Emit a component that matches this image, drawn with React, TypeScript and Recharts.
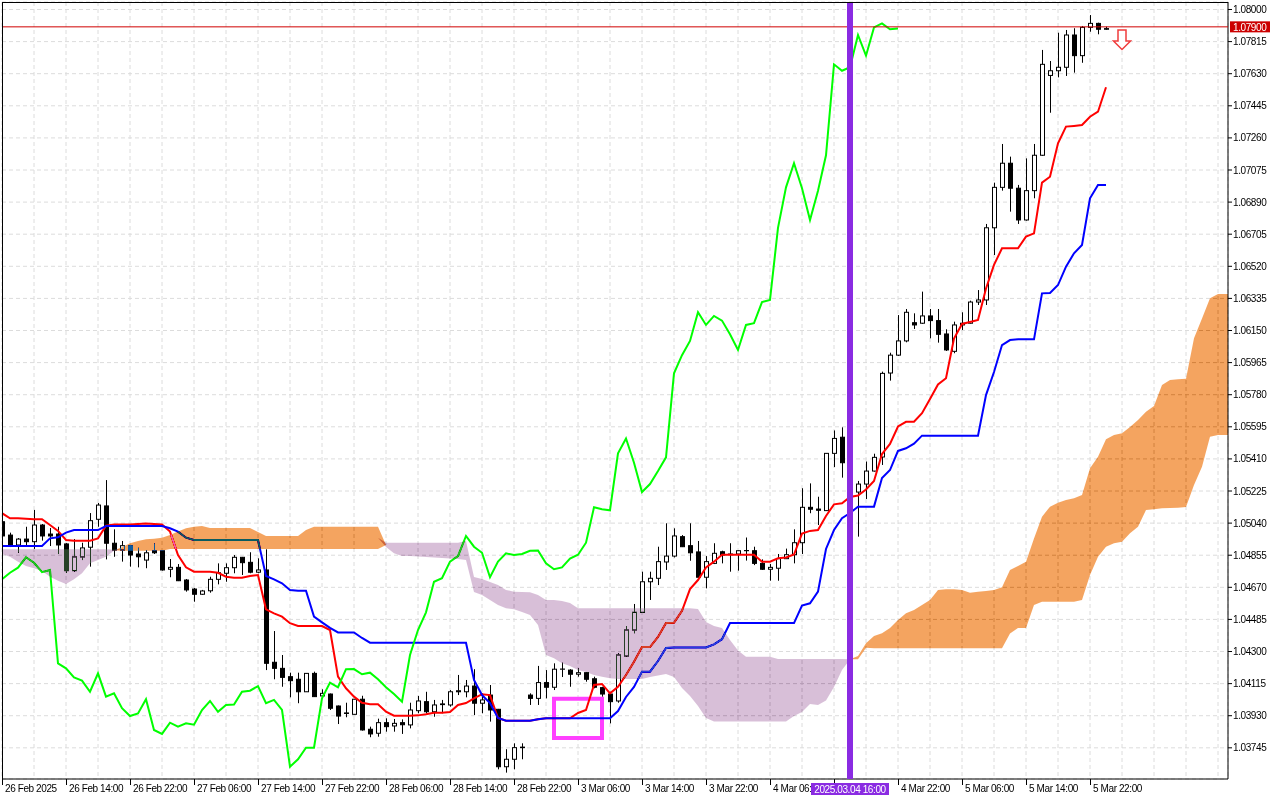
import React from 'react';
import {
  ComposedChart, Bar, Line, Area, XAxis, YAxis, CartesianGrid,
  ReferenceLine, ReferenceArea, ReferenceDot,
} from 'recharts';

const FONT = '"Liberation Sans", Arial, Helvetica, sans-serif';

// EURUSD H1, bars from 26 Feb 2025 06:00 (index 0) to 6 Mar 00:00 (index 138)
const opens = [
  1.05048, 1.04971, 1.04914, 1.04948, 1.04933, 1.05029, 1.04977, 1.04977, 1.04920, 1.04766,
  1.04845, 1.04901, 1.05062, 1.05139, 1.04924, 1.04885, 1.04910, 1.04862, 1.04827, 1.04881,
  1.04881, 1.04774, 1.04785, 1.04712, 1.04660, 1.04630, 1.04650, 1.04716, 1.04751, 1.04783,
  1.04843, 1.04814, 1.04757, 1.04770, 1.04238, 1.04203, 1.04155, 1.04140, 1.04068, 1.04174,
  1.04044, 1.04055, 1.03986, 1.03946, 1.03938, 1.04025, 1.03852, 1.03829, 1.03890, 1.03871,
  1.03890, 1.03877, 1.03959, 1.04011, 1.03953, 1.03998, 1.03992, 1.04068, 1.04068, 1.04101,
  1.04002, 1.04049, 1.03967, 1.03636, 1.03679, 1.03749, 1.04049, 1.04030, 1.04121, 1.04094,
  1.04198, 1.04193, 1.04169, 1.04178, 1.04143, 1.04092, 1.04055, 1.04015, 1.04274, 1.04424,
  1.04526, 1.04702, 1.04722, 1.04816, 1.04850, 1.04962, 1.04910, 1.04874, 1.04728, 1.04808,
  1.04875, 1.04858, 1.04862, 1.04881, 1.04881, 1.04808, 1.04774, 1.04780, 1.04835, 1.04858,
  1.04927, 1.05131, 1.05121, 1.05112, 1.05442, 1.05535, 1.05388, 1.05219, 1.05265, 1.05340,
  1.05421, 1.05905, 1.06008, 1.06090, 1.06195, 1.06192, 1.06234, 1.06207, 1.06130, 1.06030,
  1.06182, 1.06192, 1.06314, 1.06326, 1.06742, 1.06975, 1.07114, 1.06970, 1.06787, 1.06956,
  1.07160, 1.07620, 1.07647, 1.07667, 1.07853, 1.07734, 1.07897, 1.07920, 1.07886,
];
const highs = [
  1.05070, 1.04985, 1.04954, 1.05019, 1.05116, 1.05035, 1.05012, 1.05019, 1.04925, 1.04948,
  1.04927, 1.05098, 1.05156, 1.05288, 1.05004, 1.04937, 1.04914, 1.04898, 1.04885, 1.04924,
  1.04885, 1.04833, 1.04804, 1.04718, 1.04666, 1.04655, 1.04731, 1.04808, 1.04808, 1.04856,
  1.04845, 1.04872, 1.04837, 1.04889, 1.04418, 1.04280, 1.04178, 1.04178, 1.04176, 1.04184,
  1.04082, 1.04058, 1.03989, 1.04005, 1.04026, 1.04045, 1.03867, 1.03913, 1.03915, 1.03911,
  1.03909, 1.04005, 1.04044, 1.04068, 1.04021, 1.04021, 1.04078, 1.04165, 1.04136, 1.04198,
  1.04059, 1.04107, 1.03969, 1.03737, 1.03771, 1.03771, 1.04059, 1.04217, 1.04193, 1.04232,
  1.04236, 1.04198, 1.04203, 1.04182, 1.04155, 1.04097, 1.04068, 1.04290, 1.04447, 1.04574,
  1.04760, 1.04760, 1.04904, 1.05039, 1.05010, 1.04971, 1.05039, 1.04937, 1.04850, 1.04924,
  1.04881, 1.04924, 1.04882, 1.04957, 1.04904, 1.04831, 1.04804, 1.04862, 1.04893, 1.05004,
  1.05241, 1.05269, 1.05192, 1.05444, 1.05574, 1.05592, 1.05415, 1.05283, 1.05395, 1.05440,
  1.05913, 1.06022, 1.06239, 1.06274, 1.06249, 1.06374, 1.06274, 1.06274, 1.06157, 1.06201,
  1.06255, 1.06322, 1.06383, 1.06764, 1.07002, 1.07225, 1.07152, 1.06989, 1.07142, 1.07225,
  1.07767, 1.07703, 1.07866, 1.07882, 1.07892, 1.07905, 1.07968, 1.07924, 1.07901,
];
const lows = [
  1.04954, 1.04902, 1.04869, 1.04908, 1.04891, 1.04939, 1.04908, 1.04862, 1.04753, 1.04760,
  1.04827, 1.04789, 1.05019, 1.04831, 1.04846, 1.04818, 1.04789, 1.04785, 1.04780, 1.04862,
  1.04766, 1.04728, 1.04706, 1.04645, 1.04587, 1.04626, 1.04639, 1.04687, 1.04702, 1.04751,
  1.04741, 1.04751, 1.04751, 1.04193, 1.04140, 1.04097, 1.04036, 1.04002, 1.04067, 1.04038,
  1.04041, 1.03963, 1.03882, 1.03921, 1.03937, 1.03844, 1.03806, 1.03809, 1.03838, 1.03838,
  1.03825, 1.03857, 1.03944, 1.03944, 1.03924, 1.03944, 1.03982, 1.04049, 1.04036, 1.03934,
  1.03944, 1.03896, 1.03621, 1.03602, 1.03621, 1.03679, 1.03992, 1.03992, 1.04030, 1.04078,
  1.04153, 1.04097, 1.04155, 1.04126, 1.04088, 1.04040, 1.03886, 1.04005, 1.04270, 1.04405,
  1.04522, 1.04597, 1.04683, 1.04770, 1.04842, 1.04902, 1.04823, 1.04727, 1.04664, 1.04804,
  1.04808, 1.04760, 1.04766, 1.04824, 1.04798, 1.04770, 1.04708, 1.04708, 1.04833, 1.04808,
  1.04862, 1.05097, 1.05029, 1.05110, 1.05363, 1.05302, 1.05191, 1.04962, 1.05179, 1.05337,
  1.05375, 1.05861, 1.06003, 1.06082, 1.06159, 1.06188, 1.06105, 1.06080, 1.06032, 1.06019,
  1.06153, 1.06190, 1.06297, 1.06297, 1.06585, 1.06956, 1.06835, 1.06764, 1.06783, 1.06912,
  1.07156, 1.07405, 1.07609, 1.07617, 1.07636, 1.07693, 1.07872, 1.07857, 1.07882,
];
const closes = [
  1.04966, 1.04914, 1.04948, 1.04933, 1.05029, 1.04966, 1.04966, 1.04914, 1.04766, 1.04845,
  1.04897, 1.05054, 1.05144, 1.04924, 1.04885, 1.04910, 1.04856, 1.04846, 1.04869, 1.04869,
  1.04770, 1.04785, 1.04708, 1.04655, 1.04630, 1.04649, 1.04716, 1.04754, 1.04783, 1.04843,
  1.04812, 1.04757, 1.04770, 1.04232, 1.04203, 1.04151, 1.04132, 1.04068, 1.04174, 1.04040,
  1.04059, 1.03973, 1.03928, 1.03943, 1.04025, 1.03848, 1.03825, 1.03890, 1.03867, 1.03886,
  1.03878, 1.03963, 1.04015, 1.03953, 1.03992, 1.03994, 1.04068, 1.04074, 1.04101, 1.04002,
  1.04021, 1.03963, 1.03636, 1.03679, 1.03746, 1.03746, 1.04030, 1.04121, 1.04094, 1.04198,
  1.04199, 1.04169, 1.04178, 1.04140, 1.04094, 1.04055, 1.04011, 1.04280, 1.04424, 1.04526,
  1.04702, 1.04722, 1.04818, 1.04850, 1.04966, 1.04904, 1.04869, 1.04728, 1.04818, 1.04866,
  1.04856, 1.04862, 1.04881, 1.04882, 1.04808, 1.04774, 1.04785, 1.04835, 1.04858, 1.04927,
  1.05131, 1.05120, 1.05114, 1.05442, 1.05528, 1.05388, 1.05219, 1.05265, 1.05340, 1.05419,
  1.05903, 1.06008, 1.06090, 1.06255, 1.06182, 1.06234, 1.06207, 1.06128, 1.06038, 1.06182,
  1.06192, 1.06314, 1.06326, 1.06742, 1.06975, 1.07114, 1.06970, 1.06787, 1.06956, 1.07160,
  1.07684, 1.07647, 1.07667, 1.07853, 1.07734, 1.07897, 1.07920, 1.07886, 1.07890,
];

// Ichimoku lines
const tenkan = [
  1.05097, 1.05068, 1.05068, 1.05065, 1.05062, 1.05062, 1.05029, 1.04995, 1.04943, 1.04939,
  1.04939, 1.04939, 1.04952, 1.05025, 1.05032, 1.05032, 1.05032, 1.05035, 1.05038, 1.05035,
  1.05032, 1.04991, 1.04856, 1.04785, 1.04760, 1.04760, 1.04760, 1.04754, 1.04731, 1.04725,
  1.04725, 1.04735, 1.04741, 1.04543, 1.04520, 1.04501, 1.04463, 1.04447, 1.04447, 1.04447,
  1.04447, 1.04424, 1.04155, 1.04088, 1.04040, 1.04005, 1.03996, 1.03996, 1.03953, 1.03930,
  1.03930, 1.03930, 1.03932, 1.03938, 1.03947, 1.03947, 1.03951, 1.03992, 1.04003, 1.04030,
  1.04054, 1.04049, 1.03917, 1.03901, 1.03901, 1.03901, 1.03901, 1.03909, 1.03915, 1.03915,
  1.03915, 1.03915, 1.03946, 1.03963, 1.04107, 1.04113, 1.04059, 1.04097, 1.04165, 1.04241,
  1.04326, 1.04326, 1.04384, 1.04464, 1.04466, 1.04534, 1.04660, 1.04712, 1.04784, 1.04818,
  1.04858, 1.04858, 1.04858, 1.04858, 1.04858, 1.04818, 1.04818, 1.04837, 1.04842, 1.04859,
  1.04980, 1.04995, 1.05000, 1.05081, 1.05148, 1.05154, 1.05191, 1.05199, 1.05234, 1.05283,
  1.05438, 1.05496, 1.05597, 1.05624, 1.05624, 1.05673, 1.05755, 1.05839, 1.05875, 1.06104,
  1.06188, 1.06199, 1.06211, 1.06392, 1.06528, 1.06624, 1.06624, 1.06624, 1.06691, 1.06710,
  1.07002, 1.07036, 1.07229, 1.07325, 1.07329, 1.07334, 1.07382, 1.07411, 1.07552,
];
const kijun = [
  1.04908, 1.04908, 1.04908, 1.04908, 1.04908, 1.04908, 1.04952, 1.04958, 1.04985, 1.05000,
  1.05000, 1.05000, 1.05000, 1.05023, 1.05023, 1.05023, 1.05023, 1.05023, 1.05023, 1.05023,
  1.05023, 1.05010, 1.04991, 1.04956, 1.04943, 1.04943, 1.04943, 1.04943, 1.04943, 1.04943,
  1.04943, 1.04943, 1.04943, 1.04735, 1.04716, 1.04693, 1.04655, 1.04650, 1.04650, 1.04501,
  1.04468, 1.04436, 1.04410, 1.04410, 1.04410, 1.04378, 1.04351, 1.04351, 1.04351, 1.04351,
  1.04351, 1.04351, 1.04351, 1.04351, 1.04351, 1.04351, 1.04351, 1.04351, 1.04351, 1.04136,
  1.04049, 1.04003, 1.03917, 1.03901, 1.03901, 1.03901, 1.03901, 1.03909, 1.03915, 1.03915,
  1.03915, 1.03915, 1.03915, 1.03915, 1.03915, 1.03915, 1.03915, 1.03957, 1.04038, 1.04096,
  1.04184, 1.04184, 1.04245, 1.04320, 1.04323, 1.04323, 1.04323, 1.04323, 1.04323, 1.04341,
  1.04371, 1.04464, 1.04464, 1.04464, 1.04464, 1.04464, 1.04464, 1.04464, 1.04464, 1.04464,
  1.04565, 1.04578, 1.04645, 1.04891, 1.05000, 1.05068, 1.05098, 1.05135, 1.05135, 1.05135,
  1.05300, 1.05346, 1.05456, 1.05471, 1.05498, 1.05544, 1.05544, 1.05544, 1.05544, 1.05544,
  1.05544, 1.05544, 1.05544, 1.05778, 1.05911, 1.06066, 1.06095, 1.06099, 1.06099, 1.06099,
  1.06364, 1.06366, 1.06412, 1.06518, 1.06595, 1.06643, 1.06912, 1.06989, 1.06989,
];
// Senkou spans as drawn (already shifted 26 bars forward), indices 0..154
const spanA = [
  1.04862, 1.04846, 1.04818, 1.04793, 1.04780, 1.04764, 1.04731, 1.04708, 1.04689, 1.04716,
  1.04751, 1.04808, 1.04827, 1.04846, 1.04881, 1.04901, 1.04924, 1.04937, 1.04947, 1.04950,
  1.04956, 1.04971, 1.04991, 1.05010, 1.05019, 1.05023, 1.05012, 1.05012, 1.05012, 1.05012,
  1.05012, 1.05012, 1.04989, 1.04966, 1.04966, 1.04966, 1.04966, 1.04966, 1.05000, 1.05019,
  1.05019, 1.05019, 1.05019, 1.05019, 1.05019, 1.05019, 1.05019, 1.05019, 1.04902, 1.04866,
  1.04850, 1.04850, 1.04847, 1.04845, 1.04842, 1.04839, 1.04836, 1.04833, 1.04827, 1.04643,
  1.04626, 1.04597, 1.04568, 1.04549, 1.04543, 1.04528, 1.04510, 1.04453, 1.04280, 1.04261,
  1.04232, 1.04217, 1.04193, 1.04182, 1.04165, 1.04155, 1.04146, 1.04142, 1.04142, 1.04142,
  1.04142, 1.04153, 1.04162, 1.04170, 1.04153, 1.04090, 1.04044, 1.03986, 1.03917, 1.03897,
  1.03897, 1.03897, 1.03897, 1.03897, 1.03897, 1.03897, 1.03897, 1.03897, 1.03897, 1.03928,
  1.03951, 1.03998, 1.03992, 1.04018, 1.04096, 1.04193, 1.04254, 1.04274, 1.04347, 1.04389,
  1.04405, 1.04436, 1.04482, 1.04520, 1.04539, 1.04568, 1.04597, 1.04655, 1.04659, 1.04659,
  1.04655, 1.04639, 1.04645, 1.04649, 1.04655, 1.04670, 1.04770, 1.04793, 1.04818, 1.04952,
  1.05077, 1.05135, 1.05158, 1.05173, 1.05183, 1.05202, 1.05356, 1.05423, 1.05523, 1.05548,
  1.05558, 1.05594, 1.05634, 1.05682, 1.05715, 1.05836, 1.05865, 1.05869, 1.05872, 1.06105,
  1.06219, 1.06336, 1.06361, 1.06361, 1.06361,
];
const spanB = [
  1.04889, 1.04889, 1.04889, 1.04889, 1.04889, 1.04889, 1.04889, 1.04889, 1.04889, 1.04889,
  1.04889, 1.04889, 1.04889, 1.04889, 1.04887, 1.04881, 1.04881, 1.04881, 1.04881, 1.04881,
  1.04881, 1.04891, 1.04891, 1.04891, 1.04891, 1.04891, 1.04891, 1.04891, 1.04891, 1.04891,
  1.04891, 1.04891, 1.04891, 1.04891, 1.04891, 1.04891, 1.04891, 1.04891, 1.04891, 1.04891,
  1.04891, 1.04891, 1.04891, 1.04891, 1.04891, 1.04891, 1.04891, 1.04891, 1.04927, 1.04927,
  1.04927, 1.04927, 1.04927, 1.04927, 1.04927, 1.04927, 1.04927, 1.04927, 1.04937, 1.04729,
  1.04718, 1.04701, 1.04683, 1.04655, 1.04645, 1.04643, 1.04642, 1.04626, 1.04597, 1.04597,
  1.04591, 1.04580, 1.04549, 1.04549, 1.04549, 1.04549, 1.04549, 1.04549, 1.04549, 1.04549,
  1.04549, 1.04549, 1.04549, 1.04549, 1.04549, 1.04549, 1.04549, 1.04545, 1.04470, 1.04447,
  1.04436, 1.04366, 1.04306, 1.04270, 1.04270, 1.04270, 1.04270, 1.04257, 1.04257, 1.04257,
  1.04257, 1.04257, 1.04257, 1.04257, 1.04257, 1.04257, 1.04256, 1.04255, 1.04321, 1.04319,
  1.04319, 1.04319, 1.04319, 1.04319, 1.04319, 1.04319, 1.04319, 1.04319, 1.04319, 1.04319,
  1.04319, 1.04319, 1.04319, 1.04319, 1.04319, 1.04319, 1.04404, 1.04436, 1.04436, 1.04568,
  1.04587, 1.04587, 1.04587, 1.04587, 1.04587, 1.04597, 1.04741, 1.04846, 1.04904, 1.04924,
  1.04933, 1.04982, 1.05019, 1.05116, 1.05120, 1.05125, 1.05127, 1.05129, 1.05133, 1.05260,
  1.05365, 1.05538, 1.05548, 1.05548, 1.05548,
];

const CHIKOU_SHIFT = 26;

const timeTickIdx = [0, 8, 16, 24, 32, 40, 48, 56, 64, 72, 80, 88, 96, 104, 112, 120, 128, 136];
const timeTickText = [
  '26 Feb 2025', '26 Feb 14:00', '26 Feb 22:00', '27 Feb 06:00', '27 Feb 14:00', '27 Feb 22:00',
  '28 Feb 06:00', '28 Feb 14:00', '28 Feb 22:00', '3 Mar 06:00', '3 Mar 14:00', '3 Mar 22:00',
  '4 Mar 06:00', '', '4 Mar 22:00', '5 Mar 06:00', '5 Mar 14:00', '5 Mar 22:00',
];
const gridTicks = [
  0, 4, 8, 12, 16, 20, 24, 28, 32, 36, 40, 44, 48, 52, 56, 60, 64, 68, 72, 76,
  80, 84, 88, 92, 96, 100, 104, 108, 112, 116, 120, 124, 128, 132, 136, 140, 144, 148, 152,
];
const priceTicks = [
  1.03745, 1.03930, 1.04115, 1.04300, 1.04485, 1.04670, 1.04855, 1.05040, 1.05225, 1.05410,
  1.05595, 1.05780, 1.05965, 1.06150, 1.06335, 1.06520, 1.06705, 1.06890, 1.07075, 1.07260,
  1.07445, 1.07630, 1.07815, 1.08000,
];
const Y_DOMAIN = [1.035653, 1.080432];
const X_DOMAIN = [0, 153.25];

const lastPrice = 1.079;
const vlineIdx = 106;
const vlineLabel = '2025.03.04 16:00';
const boxIdx = [69, 75];
const boxPrice = [1.03801, 1.04028];
const arrowIdx = 140;
const arrowPrice = 1.07882;

const rows = spanA.map((a, i) => {
  const b = spanB[i];
  const mid = (a + b) / 2;
  const has = i < opens.length;
  return {
    i,
    range: has ? [lows[i], highs[i]] : null,
    o: has ? opens[i] : null,
    h: has ? highs[i] : null,
    l: has ? lows[i] : null,
    c: has ? closes[i] : null,
    tenkan: i < tenkan.length ? tenkan[i] : null,
    kijun: i < kijun.length ? kijun[i] : null,
    chikou: i + CHIKOU_SHIFT < closes.length ? closes[i + CHIKOU_SHIFT] : null,
    bull: a >= b ? [b, a] : [mid, mid],
    bear: b > a ? [a, b] : [mid, mid],
  };
});

function Candle(props: any) {
  const { x, y, width, height, payload } = props;
  if (!payload || payload.o == null || x == null || y == null || height == null) return null;
  const cx = Math.round(x + width / 2) + 0.5;
  const top = Math.min(y, y + height);
  const span = Math.abs(height);
  const rng = payload.h - payload.l;
  const k = rng > 0 ? span / rng : 0;
  const yo = top + (payload.h - payload.o) * k;
  const yc = top + (payload.h - payload.c) * k;
  const bull = payload.c >= payload.o;
  const bt = Math.min(yo, yc);
  const bh = Math.max(Math.abs(yc - yo), 0.01);
  return (
    <g>
      <line x1={cx} x2={cx} y1={top} y2={top + span} stroke="#000" strokeWidth={1} />
      <rect x={cx - 2} y={bt} width={4} height={bh} fill={bull ? '#ffffff' : '#000000'} stroke="#000" strokeWidth={1} />
    </g>
  );
}

function XTick(props: any) {
  const { x, y, payload } = props;
  const k = timeTickIdx.indexOf(payload.value);
  if (k < 0) return null;
  return (
    <g>
      <line x1={x + 0.5} x2={x + 0.5} y1={y - 6} y2={y} stroke="#000" strokeWidth={1} />
      {timeTickText[k] ? (
        <text x={x + 3} y={y + 7} fontSize={10} fill="#000" fontFamily={FONT} className="mt-txt">
          {timeTickText[k]}
        </text>
      ) : null}
    </g>
  );
}

function PriceTag(props: any) {
  const vb = props.viewBox || {};
  if (vb.x == null) return null;
  const x = vb.x + vb.width + 2;
  const y = vb.y;
  return (
    <g>
      <rect x={x} y={y - 5.5} width={40} height={11} fill="#cc0000" />
      <text x={x + 3} y={y + 3.8} fontSize={10} fill="#fff" fontFamily={FONT} className="mt-txt">
        {lastPrice.toFixed(5)}
      </text>
    </g>
  );
}

function TimeTag(props: any) {
  const vb = props.viewBox || {};
  if (vb.x == null) return null;
  const cx = vb.x;
  const by = vb.y + vb.height;
  return (
    <g>
      <rect x={cx - 39} y={by + 4} width={78} height={12} fill="#8a2be2" />
      <text x={cx} y={by + 13.5} fontSize={10} fill="#fff" fontFamily={FONT} textAnchor="middle" className="mt-txt">
        {vlineLabel}
      </text>
    </g>
  );
}

function ArrowMark(props: any) {
  const { cx, cy } = props;
  if (cx == null || cy == null) return null;
  const pts = [[-4, 0], [4, 0], [4, 11], [8.5, 11], [0, 19.5], [-8.5, 11], [-4, 11]]
    .map(([dx, dy]) => `${cx + dx},${cy + dy}`).join(' ');
  return <polygon points={pts} fill="#ffffff" stroke="#f03c3c" strokeWidth={1.5} />;
}

export default function App() {
  return (
    <div style={{ position: 'absolute', left: 0, top: 0, width: 1280, height: 800, background: '#fff', fontFamily: FONT }}>
      <style>{`
        .cloud-layer { mix-blend-mode: difference; }
        .mt-txt, .recharts-cartesian-axis-tick-value { letter-spacing: -0.4px; }
      `}</style>
      <ComposedChart width={1280} height={800} data={rows} margin={{ top: 2, right: 0, bottom: 0, left: 2 }}>
        <CartesianGrid stroke="#dcdcdc" strokeDasharray="4 3" fill="#ffffff" fillOpacity={1} />
        <XAxis
          dataKey="i" type="number" domain={X_DOMAIN} allowDataOverflow ticks={gridTicks} interval={0}
          height={21} tickSize={6} tickMargin={0} tickLine={false} axisLine={{ stroke: '#000' }}
          tick={(p: any) => <XTick {...p} />}
        />
        <YAxis
          orientation="right" type="number" domain={Y_DOMAIN} allowDataOverflow ticks={priceTicks} interval={0}
          width={52} tickSize={4} tickMargin={1} axisLine={{ stroke: '#000' }} tickLine={{ stroke: '#000' }}
          tick={{ fontSize: 10, fill: '#000', fontFamily: FONT }} tickFormatter={(v: number) => v.toFixed(5)}
        />
        <Bar dataKey="range" barSize={6} isAnimationActive={false} shape={(p: any) => <Candle {...p} />} />
        <Line dataKey="tenkan" type="linear" stroke="#ff0000" strokeWidth={2} dot={false} activeDot={false} isAnimationActive={false} />
        <Line dataKey="kijun" type="linear" stroke="#0000ff" strokeWidth={2} dot={false} activeDot={false} isAnimationActive={false} />
        <Line dataKey="chikou" type="linear" stroke="#00ff00" strokeWidth={2} dot={false} activeDot={false} isAnimationActive={false} />
        <Area dataKey="bull" type="linear" stroke="none" fill="#0b5b9f" fillOpacity={1} className="cloud-layer" isAnimationActive={false} activeDot={false} zIndex={450} />
        <Area dataKey="bear" type="linear" stroke="none" fill="#274027" fillOpacity={1} className="cloud-layer" isAnimationActive={false} activeDot={false} zIndex={450} />
        <ReferenceLine y={lastPrice} stroke="#d00000" strokeWidth={1} label={<PriceTag />} zIndex={2500} />
        <ReferenceLine x={vlineIdx} stroke="#8a2be2" strokeWidth={6} label={<TimeTag />} zIndex={2500} />
        <ReferenceArea x1={boxIdx[0]} x2={boxIdx[1]} y1={boxPrice[0]} y2={boxPrice[1]} fill="none" fillOpacity={0} stroke="#ff40ff" strokeWidth={4} />
        <ReferenceDot x={arrowIdx} y={arrowPrice} r={0} shape={(p: any) => <ArrowMark {...p} />} />
      </ComposedChart>
      <div style={{ position: 'absolute', left: 2, top: 2, width: 1226, height: 777, borderTop: '1px solid #000', borderLeft: '1px solid #000', pointerEvents: 'none', boxSizing: 'border-box' }} />
    </div>
  );
}
